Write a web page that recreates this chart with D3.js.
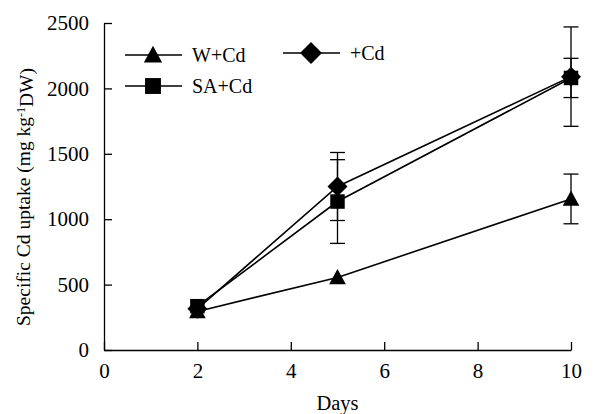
<!DOCTYPE html>
<html>
<head>
<meta charset="utf-8">
<script src="https://cdn.jsdelivr.net/npm/d3@7"></script>
<style>
  body { margin: 0; background: #fff; }
  text { font-family: "Liberation Serif", "DejaVu Serif", serif; fill: #000; }
</style>
</head>
<body>
<script>
// data
const days = [2, 5, 10];
const seriesNames = ['W+Cd', '+Cd', 'SA+Cd'];
const wCd = [295, 555, 1155];
const wCdErr = [0, 0, 190];
const cd = [315, 1250, 2090];
const cdErr = [0, 260, 380];
const saCd = [335, 1135, 2080];
const saCdErr = [0, 320, 150];
const xTicks = [0, 2, 4, 6, 8, 10];
const yTicks = [0, 500, 1000, 1500, 2000, 2500];

const width = 594, height = 414;
const margin = { top: 23, right: 23, bottom: 64, left: 104 };

const svg = d3.select('body').append('svg')
    .attr('width', width)
    .attr('height', height);

const x = d3.scaleLinear().domain([0, 10]).range([margin.left, width - margin.right]);
const y = d3.scaleLinear().domain([0, 2500]).range([height - margin.bottom, margin.top]);

// marker shapes
const diamond = {
    draw(ctx, size) {
        const r = Math.sqrt(size / 2);
        ctx.moveTo(0, -r); ctx.lineTo(r, 0); ctx.lineTo(0, r); ctx.lineTo(-r, 0); ctx.closePath();
    }
};
const triangle = {
    draw(ctx, size) {
        const h = Math.sqrt(size);
        const w = h * 1.1;
        ctx.moveTo(0, -h * 0.55); ctx.lineTo(w / 2, h * 0.45); ctx.lineTo(-w / 2, h * 0.45); ctx.closePath();
    }
};
const shapes = { 'W+Cd': [triangle, 230], '+Cd': [diamond, 200], 'SA+Cd': [d3.symbolSquare, 210] };

const series = [
    { name: 'W+Cd', values: wCd, err: wCdErr },
    { name: '+Cd', values: cd, err: cdErr },
    { name: 'SA+Cd', values: saCd, err: saCdErr }
];

// axes
const xAxis = svg.append('g')
    .attr('transform', 'translate(0,' + y(0) + ')')
    .call(d3.axisBottom(x).tickValues(xTicks).tickFormat(d3.format('d'))
        .tickSizeInner(-8).tickSizeOuter(0).tickPadding(13));
const yAxis = svg.append('g')
    .attr('transform', 'translate(' + x(0) + ',0)')
    .call(d3.axisLeft(y).tickValues(yTicks).tickFormat(d3.format('d'))
        .tickSizeInner(-8).tickSizeOuter(0).tickPadding(15));
[xAxis, yAxis].forEach(a => {
    a.select('.domain').attr('stroke', '#000').attr('stroke-width', 1.3);
    a.selectAll('.tick line').attr('stroke', '#000').attr('stroke-width', 1.3);
    a.selectAll('.tick text').style('font-size', '21px').attr('fill', '#000');
});
xAxis.selectAll('.tick text').attr('dy', '0.71em');

// lines
const line = d3.line().x((d, i) => x(days[i])).y(d => y(d));
svg.append('g').selectAll('path')
    .data(series)
    .join('path')
    .attr('d', s => line(s.values))
    .attr('fill', 'none')
    .attr('stroke', '#000')
    .attr('stroke-width', 1.6);

// error bars
const cap = 7.5;
series.forEach(s => {
    const g = svg.append('g').attr('stroke', '#000').attr('stroke-width', 1.3);
    s.values.forEach((v, i) => {
        const e = s.err[i];
        if (!e) return;
        const cx = x(days[i]);
        g.append('line').attr('x1', cx).attr('x2', cx).attr('y1', y(v - e)).attr('y2', y(v + e));
        g.append('line').attr('x1', cx - cap).attr('x2', cx + cap).attr('y1', y(v + e)).attr('y2', y(v + e));
        g.append('line').attr('x1', cx - cap).attr('x2', cx + cap).attr('y1', y(v - e)).attr('y2', y(v - e));
    });
});

// markers
series.forEach(s => {
    const [type, size] = shapes[s.name];
    svg.append('g').selectAll('path')
        .data(s.values)
        .join('path')
        .attr('transform', (d, i) => 'translate(' + x(days[i]) + ',' + y(d) + ')')
        .attr('d', d3.symbol().type(type).size(size))
        .attr('fill', '#000');
});

// legend
const legendPos = [
    { name: 'W+Cd', lx: 125, ly: 55 },
    { name: '+Cd', lx: 283, ly: 53 },
    { name: 'SA+Cd', lx: 125, ly: 86 }
];
const legend = svg.append('g');
legendPos.forEach(p => {
    const [type, size] = shapes[p.name];
    legend.append('line')
        .attr('x1', p.lx).attr('x2', p.lx + 57)
        .attr('y1', p.ly).attr('y2', p.ly)
        .attr('stroke', '#000').attr('stroke-width', 1.6);
    legend.append('path')
        .attr('transform', 'translate(' + (p.lx + 28) + ',' + p.ly + ')')
        .attr('d', d3.symbol().type(type).size(size * 1.2))
        .attr('fill', '#000');
    legend.append('text')
        .attr('x', p.lx + 67).attr('y', p.ly)
        .attr('dy', '0.35em')
        .style('font-size', '20px')
        .text(p.name);
});

// axis titles
svg.append('text')
    .attr('x', x(5)).attr('y', 410)
    .attr('text-anchor', 'middle')
    .style('font-size', '20.5px')
    .text('Days');

const yTitle = svg.append('text')
    .attr('transform', 'translate(30,197) rotate(-90)')
    .attr('text-anchor', 'middle')
    .style('font-size', '19.5px');
yTitle.append('tspan').text('Specific Cd uptake (mg kg');
yTitle.append('tspan').attr('dy', '-0.45em').style('font-size', '12px').text('-1');
yTitle.append('tspan').attr('dy', '0.45em').text('DW)');
</script>
</body>
</html>
